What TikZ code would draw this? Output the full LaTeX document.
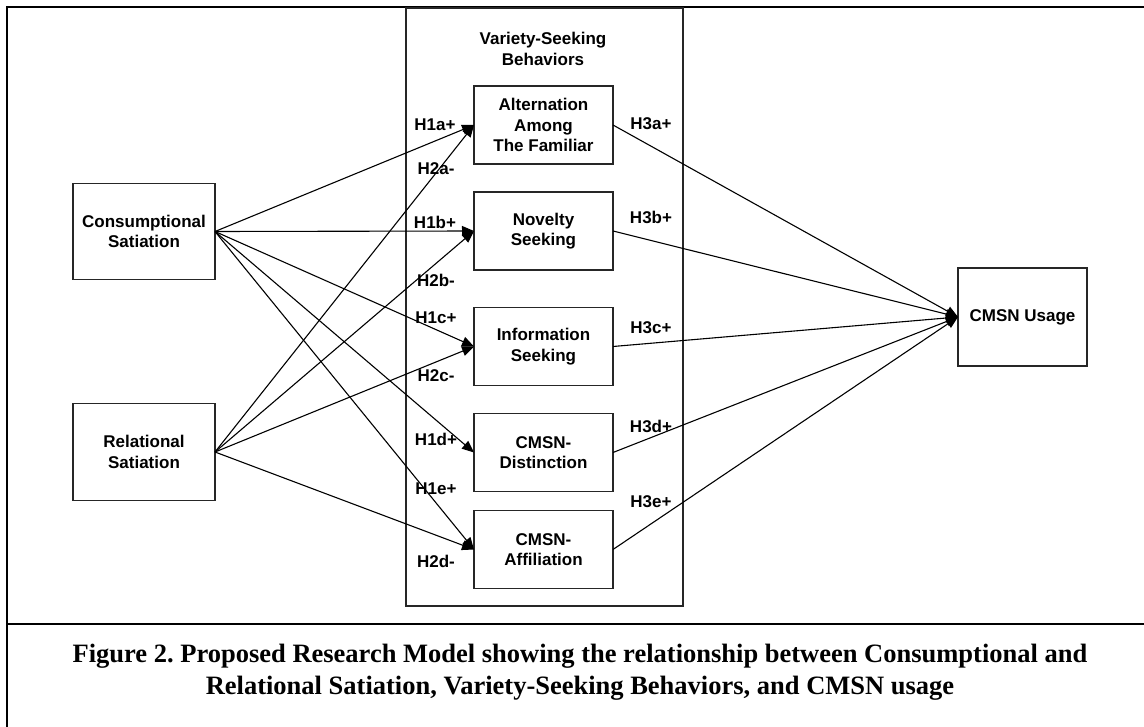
\documentclass[tikz,border=0pt]{standalone}
\usepackage{fontspec}
\setmainfont{Liberation Serif}
\newfontfamily\arialfont{Liberation Sans}
\usetikzlibrary{arrows.meta}
\frenchspacing
\begin{document}
\begin{tikzpicture}[x=1pt,y=-1pt,
  box/.style={draw=black!85,line width=1.3pt,inner sep=0pt,outer sep=0pt,
    minimum width=139pt,minimum height=78pt,align=center,
    font=\arialfont\bfseries\fontsize{17}{20.5}\selectfont},
  lbl/.style={inner sep=0pt,font=\arialfont\bfseries\fontsize{17}{20}\selectfont},
  conn/.style={line width=1.1pt,-{Triangle[length=12pt,width=10pt]}},
  frame/.style={line width=2.5pt}]
\useasboundingbox (0,0) rectangle (1144,727);
% outer frame
\draw[frame] (7,727) -- (7,7) -- (1144,7);
\draw[frame] (7,624) -- (1144,624);
% big group box
\draw[draw=black!85,line width=1.3pt] (406,8) rectangle (683,606);
\node[align=center,font=\arialfont\bfseries\fontsize{17}{20.5}\selectfont] (title) at (543,49) {Variety-Seeking\\Behaviors};
% left boxes
\node[box,minimum width=142pt,minimum height=96pt] (cons) at (144,231.5) {Consumptional\\Satiation};
\node[box,minimum width=142pt,minimum height=97pt] (rel) at (144,452) {Relational\\Satiation};
% middle boxes
\node[box] (alt) at (543.5,125) {Alternation\\Among\\The Familiar};
\node[box] (nov) at (543.5,231) {Novelty\\Seeking};
\node[box] (inf) at (543.5,346.5) {Information\\Seeking};
\node[box] (dis) at (543.5,452.5) {CMSN-\\Distinction};
\node[box] (aff) at (543.5,549.5) {CMSN-\\Affiliation};
% right box
\node[box,minimum width=129pt,minimum height=98pt] (use) at (1022.5,317) {CMSN Usage};
% connectors
\draw[conn] (cons.east) -- (alt.west);
\draw[conn] (cons.east) -- (nov.west);
\draw[conn] (cons.east) -- (inf.west);
\draw[conn] (cons.east) -- (dis.west);
\draw[conn] (cons.east) -- (aff.west);
\draw[conn] (rel.east) -- (alt.west);
\draw[conn] (rel.east) -- (nov.west);
\draw[conn] (rel.east) -- (inf.west);
\draw[conn] (rel.east) -- (aff.west);
\draw[conn] (alt.east) -- (use.west);
\draw[conn] (nov.east) -- (use.west);
\draw[conn] (inf.east) -- (use.west);
\draw[conn] (dis.east) -- (use.west);
\draw[conn] (aff.east) -- (use.west);
% labels
\node[lbl] (h1a) at (435,125) {H1a+};
\node[lbl] (h2a) at (436,169) {H2a-};
\node[lbl] (h1b) at (435,222) {H1b+};
\node[lbl] (h2b) at (436,280) {H2b-};
\node[lbl] (h1c) at (436,318) {H1c+};
\node[lbl] (h2c) at (436,376) {H2c-};
\node[lbl] (h1d) at (436,439) {H1d+};
\node[lbl] (h1e) at (436,489) {H1e+};
\node[lbl] (h2d) at (436,561) {H2d-};
\node[lbl] (h3a) at (651,124) {H3a+};
\node[lbl] (h3b) at (651,217) {H3b+};
\node[lbl] (h3c) at (651,328) {H3c+};
\node[lbl] (h3d) at (651,426) {H3d+};
\node[lbl] (h3e) at (651,502) {H3e+};
% caption
\node[align=center,inner sep=0pt,font=\bfseries\fontsize{26.5}{32}\selectfont] (cap) at (580,672)
  {Figure 2. Proposed Research Model showing the relationship between Consumptional and\\Relational Satiation, Variety-Seeking Behaviors, and CMSN usage};
\end{tikzpicture}
\end{document}
